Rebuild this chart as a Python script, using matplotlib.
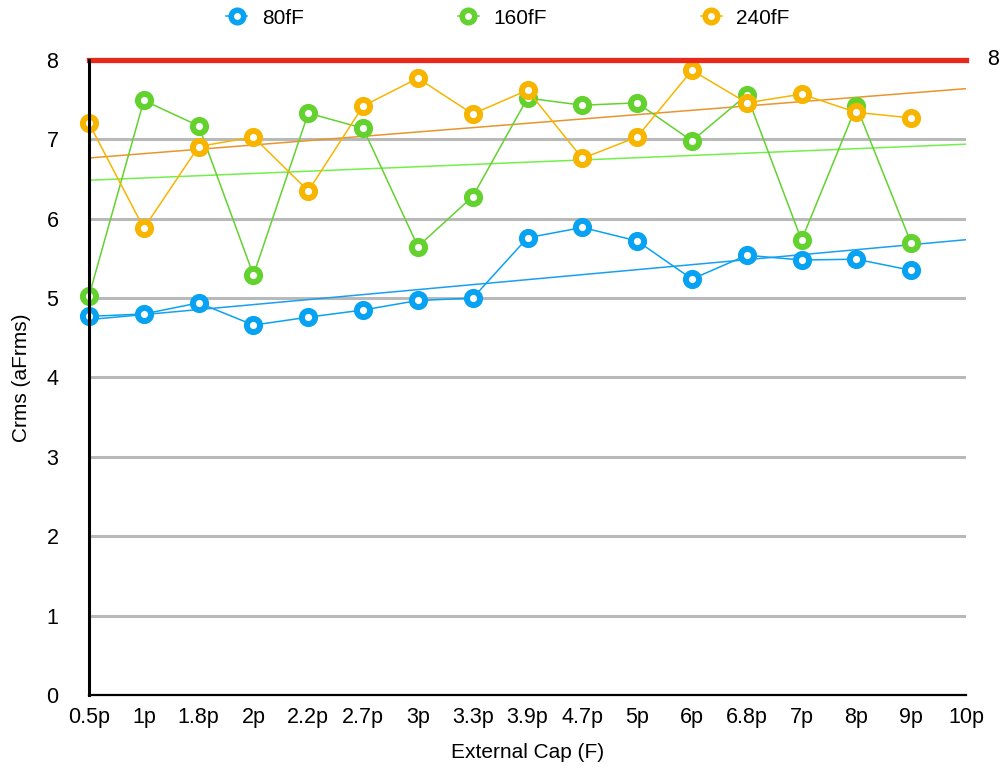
import numpy as np
import matplotlib
matplotlib.use("Agg")
import matplotlib.pyplot as plt
from matplotlib.lines import Line2D

plt.rcParams["font.family"] = ["Liberation Sans", "DejaVu Sans"]

caps = ["0.5p", "1p", "1.8p", "2p", "2.2p", "2.7p", "3p", "3.3p", "3.9p",
        "4.7p", "5p", "6p", "6.8p", "7p", "8p", "9p", "10p"]

crms_80 = [4.77, 4.80, 4.94, 4.66, 4.76, 4.85, 4.97, 5.00, 5.76, 5.89,
           5.72, 5.24, 5.54, 5.48, 5.49, 5.35]
crms_160 = [5.03, 7.49, 7.17, 5.29, 7.33, 7.14, 5.65, 6.28, 7.52, 7.43,
            7.46, 6.98, 7.56, 5.73, 7.42, 5.69]
crms_240 = [7.20, 5.88, 6.91, 7.03, 6.35, 7.42, 7.77, 7.32, 7.62, 6.76,
            7.03, 7.87, 7.46, 7.57, 7.34, 7.27]
limit = 8

series = [
    ("80fF", crms_80, "#08a2f2", "#1a9ff0"),
    ("160fF", crms_160, "#63d22e", "#72f04a"),
    ("240fF", crms_240, "#f7b500", "#e8952e"),
]

fig = plt.figure(figsize=(10.05, 7.74), dpi=100)
ax = fig.add_axes([0.0886, 0.1021, 0.8726, 0.8204])

xall = np.arange(len(caps))
ax.set_xlim(0, len(caps) - 1)
ax.set_ylim(0, 8)

# gridlines 1..7
for y in range(1, 8):
    ax.axhline(y, color="#b9b9b9", lw=2.2, zorder=1)

handles = []
for name, vals, col, tcol in series:
    x = np.arange(len(vals))
    # linear trend over the points, drawn to the last category
    k, b = np.polyfit(x, vals, 1)
    ax.plot([0, xall[-1]], [b, b + k * xall[-1]], color=tcol, lw=1.1, zorder=2)
    ax.plot(x, vals, "-o", color=col, lw=1.1, ms=9.5, mew=4.3,
            mfc="white", mec=col, zorder=3, clip_on=False)
    handles.append(Line2D([], [], color=col, lw=1.1, marker="o", ms=9, mew=4,
                          mfc="white", mec=col))

ax.axhline(limit, color="#e8281a", lw=3.8, zorder=4, clip_on=False)
ax.text(1.031, limit, str(limit), transform=ax.get_yaxis_transform(),
        ha="center", va="center", fontsize=15.5)

for s in ["top", "right"]:
    ax.spines[s].set_visible(False)
ax.spines["left"].set_linewidth(2.2)
ax.spines["bottom"].set_linewidth(1.6)
ax.spines["left"].set_zorder(5)

ax.set_xticks(xall)
ax.set_xticklabels(caps)
ax.set_yticks(range(0, 9))
ax.tick_params(axis="both", length=0, labelsize=15.5)
ax.tick_params(axis="x", pad=9)
ax.tick_params(axis="y", pad=22)

ax.set_xlabel("External Cap (F)", fontsize=15)
ax.set_ylabel("Crms (aFrms)", fontsize=15)
ax.xaxis.set_label_coords(0.5, -0.075)
ax.yaxis.set_label_coords(-0.066, 0.5)

fig.legend(handles, [s[0] for s in series], loc="center",
           bbox_to_anchor=(508 / 1005, 1 - 18 / 774), ncol=3, frameon=False,
           fontsize=15, handlelength=1.0, handletextpad=0.7,
           columnspacing=7.4, borderpad=0)

fig.savefig("out.png", dpi=100)
